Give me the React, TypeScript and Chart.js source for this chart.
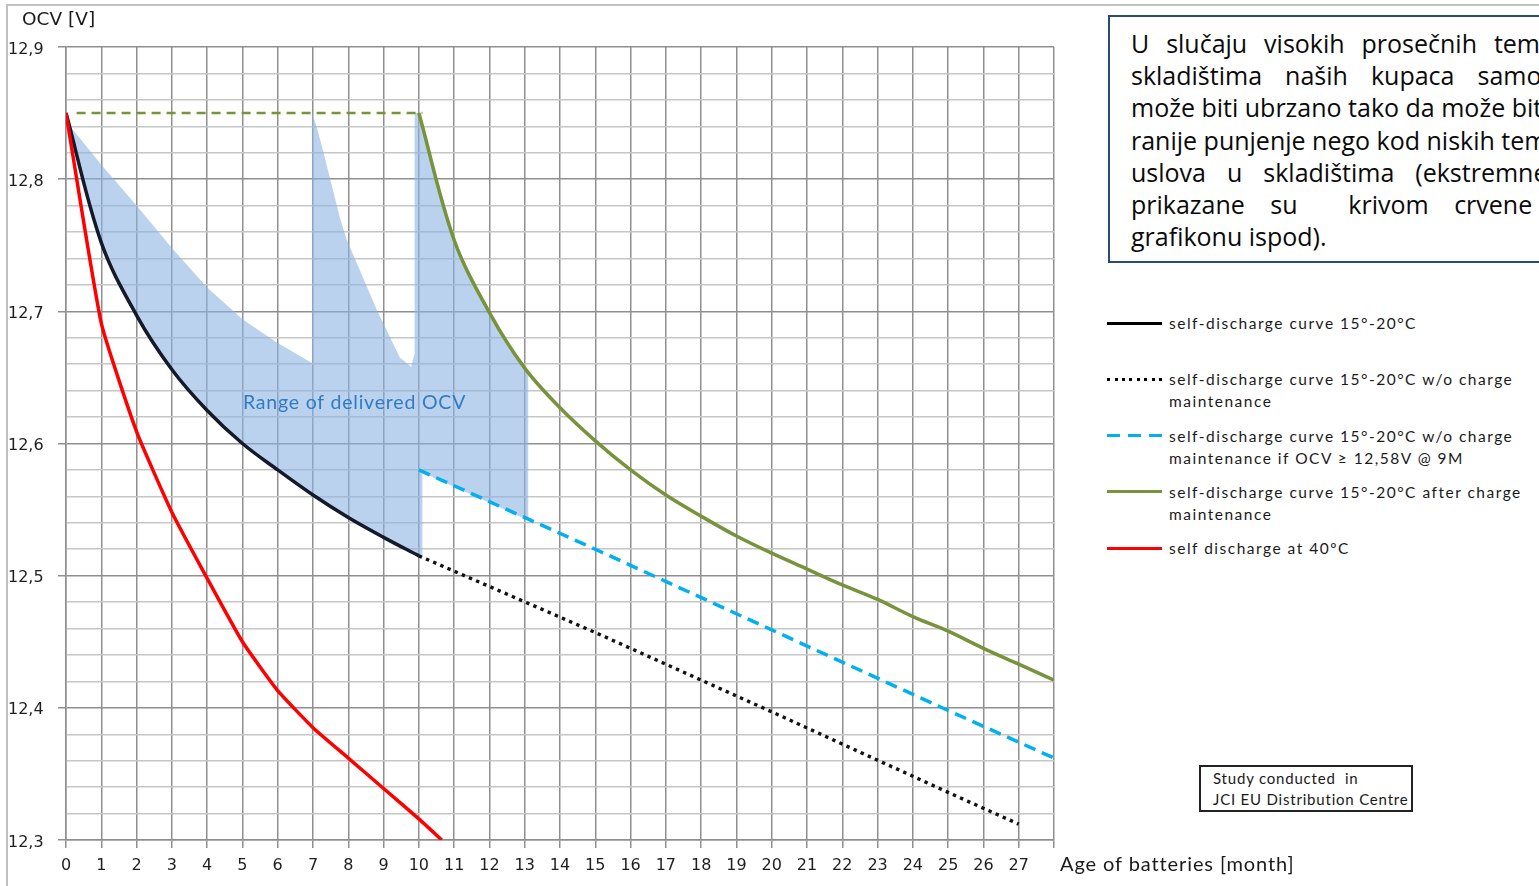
import React, { useEffect, useRef } from "react";
import { Chart, registerables } from "chart.js";

Chart.register(...registerables);

// ---------- data ----------
const selfMonths = [0, 1, 2, 3, 4, 5, 6, 7, 8, 9, 10];
const selfOcv = [12.85, 12.752, 12.697, 12.656, 12.625, 12.6, 12.58, 12.561, 12.544, 12.529, 12.515];

const noMaintMonths = [10, 15, 20, 25, 27];
const noMaintOcv = [12.515, 12.457, 12.397, 12.336, 12.312];

const ifOcvMonths = [10, 15, 20, 25, 28];
const ifOcvOcv = [12.58, 12.52, 12.459, 12.398, 12.362];

const afterMonths = [10, 11, 12, 13, 14, 15, 16, 17, 18, 19, 20, 21, 22, 23, 24, 25, 26, 27, 28];
const afterOcv = [12.85, 12.754, 12.699, 12.657, 12.627, 12.602, 12.58, 12.561, 12.545, 12.53, 12.517, 12.505, 12.493, 12.482, 12.469, 12.458, 12.445, 12.433, 12.421];

const hotMonths = [0, 1, 2, 3, 4, 5, 6, 7, 8, 9, 10, 10.65];
const hotOcv = [12.85, 12.691, 12.609, 12.548, 12.498, 12.45, 12.413, 12.385, 12.362, 12.339, 12.316, 12.3];

const chargeLevelMonths = [0.3, 10.1];
const chargeLevelOcv = [12.85, 12.85];

// outline of the "Range of delivered OCV" area (closed shape)
const rangeMonths = [0, 0.06, 1, 2, 3, 4, 5, 6, 6.97, 6.97, 7.1, 7.28, 7.76, 7.96, 8.81, 9.46, 9.78, 9.88, 9.88, 10, 11, 12, 13, 13.1, 13.1, 10.1, 10.1, 10, 9, 8, 7, 6, 5, 4, 3, 2, 1, 0];
const rangeOcv = [12.85, 12.842, 12.811, 12.78, 12.748, 12.718, 12.694, 12.676, 12.661, 12.85, 12.84, 12.822, 12.771, 12.754, 12.701, 12.665, 12.658, 12.668, 12.85, 12.85, 12.754, 12.699, 12.657, 12.652, 12.542, 12.578, 12.515, 12.515, 12.529, 12.544, 12.561, 12.58, 12.6, 12.625, 12.656, 12.697, 12.752, 12.85];

const xTickLabels = ["0", "1", "2", "3", "4", "5", "6", "7", "8", "9", "10", "11", "12", "13", "14", "15", "16", "17", "18", "19", "20", "21", "22", "23", "24", "25", "26", "27"];
const yMajorValues = [12.3, 12.4, 12.5, 12.6, 12.7, 12.8, 12.9];
const yTickLabels = ["12,3", "12,4", "12,5", "12,6", "12,7", "12,8", "12,9"];

const legendLabels = [
  "self-discharge curve 15°-20°C",
  "self-discharge curve 15°-20°C w/o charge\nmaintenance",
  "self-discharge curve 15°-20°C w/o charge\nmaintenance if OCV ≥ 12,58V @ 9M",
  "self-discharge curve 15°-20°C after charge\nmaintenance",
  "self discharge at 40ºC",
];

const rangeLabel = "Range of delivered OCV";
const yAxisTitle = "OCV [V]";
const xAxisTitle = "Age of batteries [month]";
const studyLines = ["Study conducted  in", "JCI EU Distribution Centre"];
const infoLines = [
  "U slučaju visokih prosečnih temperatura u",
  "skladištima naših kupaca samopražnjenje",
  "može biti ubrzano tako da može biti potrebno",
  "ranije punjenje nego kod niskih temperaturnih",
  "uslova u skladištima (ekstremne vrednosti",
  "prikazane su  krivom crvene boje na",
  "grafikonu ispod).",
];

// ---------- styles ----------
const C_BLACK = "#141a2a";
const C_RED = "#ff0000";
const C_GREEN = "#77933c";
const C_BLUE = "#00b0f0";
const C_SHADE = "rgba(141,180,226,0.6)";

// justified width of each line of the note (0 = not justified)
const infoLineWidths = [543, 533, 0, 0, 547, 532, 0];

const swatches: React.CSSProperties[] = [
  { background: "#000" },
  { background: "repeating-linear-gradient(to right, #000 0 3px, transparent 3px 7.5px)" },
  { background: `repeating-linear-gradient(to right, ${C_BLUE} 0 13px, transparent 13px 21px)` },
  { background: C_GREEN },
  { background: C_RED },
];

const zip = (xs: number[], ys: number[]) => xs.map((x, i) => ({ x, y: ys[i] }));
const isMajor = (v: number) => Math.abs(v * 10 - Math.round(v * 10)) < 1e-6;

export default function App() {
  const canvasRef = useRef<HTMLCanvasElement | null>(null);

  useEffect(() => {
    if (!canvasRef.current) return;
    const chart = new Chart(canvasRef.current, {
      type: "line",
      data: {
        datasets: [
          { label: legendLabels[4], data: zip(hotMonths, hotOcv), borderColor: C_RED, borderWidth: 3.5, tension: 0.15, fill: false },
          { label: legendLabels[0], data: zip(selfMonths, selfOcv), borderColor: C_BLACK, borderWidth: 3.5, tension: 0.35, fill: false },
          { label: legendLabels[3], data: zip(afterMonths, afterOcv), borderColor: C_GREEN, borderWidth: 3.5, tension: 0.35, fill: false },
          { label: legendLabels[2], data: zip(ifOcvMonths, ifOcvOcv), borderColor: C_BLUE, borderWidth: 3.5, borderDash: [12, 7], fill: false },
          { label: legendLabels[1], data: zip(noMaintMonths, noMaintOcv), borderColor: "#111", borderWidth: 3.4, borderDash: [3.4, 4.4], fill: false },
          { label: "charge level", data: zip(chargeLevelMonths, chargeLevelOcv), borderColor: C_GREEN, borderWidth: 2.5, borderDash: [9, 6], fill: false },
          { label: rangeLabel, data: zip(rangeMonths, rangeOcv), borderWidth: 0, borderColor: "rgba(0,0,0,0)", backgroundColor: C_SHADE, fill: "shape", tension: 0, order: 10 } as any,
        ],
      },
      options: {
        animation: false,
        responsive: false,
        devicePixelRatio: 1,
        layout: { padding: { left: 8, right: 8, top: 47, bottom: 0 } },
        elements: { point: { radius: 0, hoverRadius: 0 } },
        plugins: { legend: { display: false }, tooltip: { enabled: false } },
        events: [],
        scales: {
          x: {
            type: "linear",
            min: 0,
            max: 28,
            afterFit: (s: any) => { s.height = 46; },
            ticks: {
              stepSize: 1,
              autoSkip: false,
              maxRotation: 0,
              padding: 8,
              color: "#1e1e1e",
              font: { family: "DejaVu Sans", size: 16 },
              callback: (v: any) => xTickLabels[Number(v)] ?? "",
            },
            grid: { color: "#8f8f8f", lineWidth: 1.5, tickLength: 8, tickColor: "#8f8f8f" },
            border: { color: "#8f8f8f", width: 1.5 },
          },
          y: {
            type: "linear",
            min: 12.3,
            max: 12.9,
            afterFit: (s: any) => { s.width = 58; },
            ticks: {
              stepSize: 0.02,
              autoSkip: false,
              crossAlign: "far",
              labelOffset: 2.5,
              color: "#1e1e1e",
              font: { family: "DejaVu Sans", size: 16 },
              callback: (v: any) => {
                const i = yMajorValues.findIndex((m) => Math.abs(m - Number(v)) < 1e-6);
                return i >= 0 ? yTickLabels[i] : "";
              },
            },
            grid: {
              lineWidth: 1.5,
              tickLength: 8,
              color: (ctx: any) => (ctx.tick && isMajor(ctx.tick.value) ? "#8f8f8f" : "#c6c6c6"),
              tickColor: (ctx: any) => (ctx.tick && isMajor(ctx.tick.value) ? "#8f8f8f" : "rgba(0,0,0,0)"),
            },
            border: { color: "#8f8f8f", width: 1.5 },
          },
        },
      },
    } as any);
    return () => chart.destroy();
  }, []);

  const calibri = "Lato, 'Open Sans', sans-serif";

  return (
    <div style={{ position: "relative", width: 1539, height: 886, overflow: "hidden", background: "#fff" }}>
      <style>{"body{margin:0;}"}</style>
      {/* outer frame */}
      <div style={{ position: "absolute", left: 6, top: 4, right: -10, bottom: -10, borderTop: "2px solid #c0c0c0", borderLeft: "2px solid #c0c0c0" }} />
      <canvas ref={canvasRef} width={1062} height={886} style={{ position: "absolute", left: 0, top: 0, width: 1062, height: 886 }} />

      <div style={{ position: "absolute", left: 22, top: 7, fontFamily: "DejaVu Sans", fontSize: 18.5, lineHeight: "24px", color: "#1a1a1a" }}>{yAxisTitle}</div>
      <div style={{ position: "absolute", left: 1060, top: 851, fontFamily: calibri, fontSize: 20, lineHeight: "24px", letterSpacing: 0.9, color: "#1a1a1a", whiteSpace: "nowrap" }}>{xAxisTitle}</div>
      <div style={{ position: "absolute", left: 243, top: 390, fontFamily: calibri, fontSize: 19.5, lineHeight: "24px", letterSpacing: 0.8, color: "#2e7bc6", whiteSpace: "nowrap" }}>{rangeLabel}</div>

      {/* info box */}
      <div style={{ position: "absolute", left: 1108, top: 15, width: 640, height: 248, border: "2px solid #2b4a7a", padding: "10px 0 0 21px", boxSizing: "border-box", fontFamily: "'Open Sans', sans-serif", fontSize: 25, lineHeight: "32.2px", color: "#0a0a0a" }}>
        {infoLines.map((t, i) => {
          const w = infoLineWidths[i];
          const justify = w > 0;
          return (
            <div key={i} style={{ width: justify ? w : 600, whiteSpace: justify ? "pre-wrap" : "pre", textAlign: justify ? "justify" : "left", textAlignLast: justify ? "justify" : "left" } as any}>{t}</div>
          );
        })}
      </div>

      {/* legend */}
      {legendLabels.map((t, i) => (
        <div key={i} style={{ position: "absolute", left: 1107, top: 312 + i * 56.25, width: 430 }}>
          <div style={{ position: "absolute", left: 0, top: 9.5, width: 55, height: 3, ...swatches[i] }} />
          <div style={{ position: "absolute", left: 62, top: 0, fontFamily: calibri, fontSize: 15.5, lineHeight: "22px", letterSpacing: 1.5, color: "#1a1a1a", whiteSpace: "pre" }}>{t}</div>
        </div>
      ))}

      {/* study box */}
      <div style={{ position: "absolute", left: 1199, top: 765, width: 214, height: 47, border: "2px solid #222", boxSizing: "border-box", padding: "1px 0 0 12px", fontFamily: calibri, fontSize: 15, lineHeight: "21px", letterSpacing: 0.8, color: "#1a1a1a", whiteSpace: "pre" }}>
        {studyLines.map((t, i) => <div key={i}>{t}</div>)}
      </div>
    </div>
  );
}
